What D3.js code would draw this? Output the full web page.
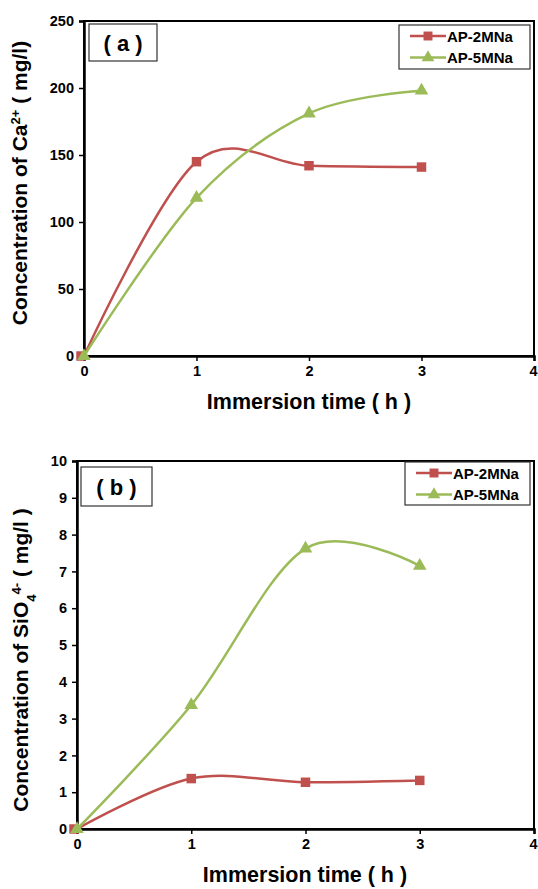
<!DOCTYPE html>
<html>
<head>
<meta charset="utf-8">
<script src="https://cdn.jsdelivr.net/npm/d3@7"></script>
<style>
  body { margin: 0; background: #fff; }
  svg text { font-family: "Liberation Sans", Arial, sans-serif; font-weight: bold; }
</style>
</head>
<body>
<svg id="chart" width="538" height="889"></svg>
<script>
// immersion time (h)
var times = [0, 1, 2, 3];
var seriesNames = ["AP-2MNa", "AP-5MNa"];
var seriesColors = ["#C0504D", "#9BBB59"];

// panel (a): Ca2+ concentration (mg/l)
var caAP2 = [0, 145, 142, 141];
var caAP5 = [0, 118, 181, 198];
var caTicks = [0, 50, 100, 150, 200, 250];

// panel (b): SiO4 4- concentration (mg/l)
var siAP2 = [0, 1.37, 1.27, 1.32];
var siAP5 = [0, 3.37, 7.62, 7.15];
var siTicks = [0, 1, 2, 3, 4, 5, 6, 7, 8, 9, 10];

var xTicks = [0, 1, 2, 3, 4];

var svg = d3.select("#chart");

function drawPanel(cfg) {
    var g = svg.append("g");
    var x = d3.scaleLinear().domain([0, 4]).range([cfg.left, cfg.right]);
    var y = d3.scaleLinear().domain([0, cfg.yMax]).range([cfg.bottom, cfg.top]);

    // frame
    g.append("rect").attr("x", cfg.left).attr("y", cfg.top)
        .attr("width", cfg.right - cfg.left).attr("height", cfg.bottom - cfg.top)
        .attr("fill", "none").attr("stroke", "#000").attr("stroke-width", 2);

    var yAxis = g.append("g").attr("transform", "translate(" + cfg.left + ",0)")
        .call(d3.axisLeft(y).tickValues(cfg.yTicks).tickSize(5).tickPadding(5).tickFormat(d3.format("d")));
    var xAxis = g.append("g").attr("transform", "translate(0," + cfg.bottom + ")")
        .call(d3.axisBottom(x).tickValues(xTicks).tickSize(5).tickPadding(5).tickFormat(d3.format("d")));
    [yAxis, xAxis].forEach(function (a) {
        a.select(".domain").attr("stroke-width", 2.5);
        a.selectAll(".tick line").attr("stroke-width", 1.5);
        a.selectAll(".tick text").style("font-size", "14.5px").attr("fill", "#000");
    });
    xAxis.selectAll(".tick text").filter(function (d) { return d === 4; }).attr("dx", -1);

    var line = d3.line()
        .x(function (d) { return x(d[0]); })
        .y(function (d) { return y(d[1]); })
        .curve(d3.curveCardinal.tension(0));

    cfg.series.forEach(function (vals, i) {
        var pts = times.map(function (t, k) { return [t, vals[k]]; });
        g.append("path").datum(pts).attr("d", line)
            .attr("fill", "none").attr("stroke", seriesColors[i]).attr("stroke-width", 2.5);
        var sym = d3.symbol().type(i === 0 ? d3.symbolSquare : d3.symbolTriangle).size(i === 0 ? 90 : 80);
        g.selectAll(null).data(pts).enter().append("path")
            .attr("d", sym)
            .attr("transform", function (d) {
                var dx = (i === 0 && d[0] === 0) ? -3 : 0;
                return "translate(" + (x(d[0]) + dx) + "," + y(d[1]) + ")";
            })
            .attr("fill", seriesColors[i]);
    });

    // panel label
    g.append("rect").attr("x", cfg.lab[0]).attr("y", cfg.lab[1])
        .attr("width", cfg.lab[2]).attr("height", cfg.lab[3])
        .attr("fill", "#fff").attr("stroke", "#333").attr("stroke-width", 1.2);
    g.append("text").attr("x", cfg.lab[0] + cfg.lab[2] / 2).attr("y", cfg.lab[1] + cfg.lab[3] / 2 + 8)
        .attr("text-anchor", "middle").style("font-size", "22px").text(cfg.label);

    // legend
    var lg = cfg.leg;
    g.append("rect").attr("x", lg[0]).attr("y", lg[1]).attr("width", lg[2]).attr("height", lg[3])
        .attr("fill", "#fff").attr("stroke", "#333").attr("stroke-width", 1.2);
    seriesNames.forEach(function (name, i) {
        var ly = lg[1] + 11 + i * 21.5;
        g.append("line").attr("x1", lg[0] + 11).attr("x2", lg[0] + 47)
            .attr("y1", ly).attr("y2", ly)
            .attr("stroke", seriesColors[i]).attr("stroke-width", 2.5);
        g.append("path")
            .attr("d", d3.symbol().type(i === 0 ? d3.symbolSquare : d3.symbolTriangle).size(i === 0 ? 80 : 70))
            .attr("transform", "translate(" + (lg[0] + 29) + "," + ly + ")")
            .attr("fill", seriesColors[i]);
        g.append("text").attr("x", lg[0] + 48).attr("y", ly + 5.5)
            .style("font-size", "15px").text(name);
    });

    // axis titles
    g.append("text").attr("x", cfg.xTitleX).attr("y", cfg.bottom + 53)
        .attr("text-anchor", "middle").style("font-size", "21.5px").text("Immersion time ( h )");

    var yt = g.append("text")
        .attr("transform", "translate(" + cfg.yTitle[0] + "," + cfg.yTitle[1] + ") rotate(-90)")
        .attr("text-anchor", "middle").style("font-size", "21px");
    cfg.yTitleParts.forEach(function (p) {
        var ts = yt.append("tspan").text(p[0]);
        if (p[1]) ts.attr("baseline-shift", p[1]).style("font-size", "13px");
    });
}

drawPanel({
    left: 84, right: 534, top: 21, bottom: 356, yMax: 250, yTicks: caTicks,
    series: [caAP2, caAP5], label: "( a )",
    lab: [89, 24, 68, 37], leg: [399, 25, 131, 44],
    yTitle: [27, 183], xTitleX: 309,
    yTitleParts: [["Concentration of Ca"], ["2+", "super"], [" ( mg/l)"]]
});

drawPanel({
    left: 77, right: 534, top: 461, bottom: 829, yMax: 10, yTicks: siTicks,
    series: [siAP2, siAP5], label: "( b )",
    lab: [81, 467, 71, 39], leg: [405, 462, 125, 43],
    yTitle: [28, 660], xTitleX: 305,
    yTitleParts: [["Concentration of SiO"], ["4", "sub"], ["4-", "super"], [" ( mg/l )"]]
});
</script>
</body>
</html>
